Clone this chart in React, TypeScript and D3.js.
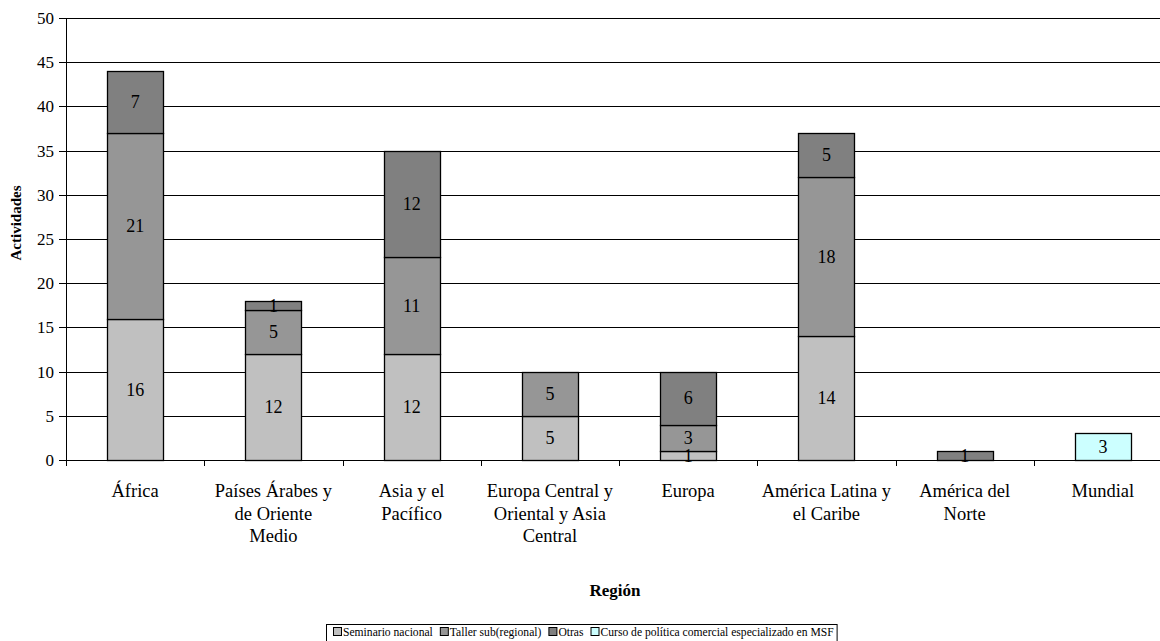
import React from "react";
import * as d3 from "d3";

const categories = [
  ["África"],
  ["Países Árabes y", "de Oriente", "Medio"],
  ["Asia y el", "Pacífico"],
  ["Europa Central y", "Oriental y Asia", "Central"],
  ["Europa"],
  ["América Latina y", "el Caribe"],
  ["América del", "Norte"],
  ["Mundial"],
];
const seriesNames = [
  "Seminario nacional",
  "Taller sub(regional)",
  "Otras",
  "Curso de política comercial especializado en MSF",
];
const seminario = [16, 12, 12, 5, 1, 14, 0, 0];
const taller = [21, 5, 11, 5, 3, 18, 0, 0];
const otras = [7, 1, 12, 0, 6, 5, 1, 0];
const curso = [0, 0, 0, 0, 0, 0, 0, 3];
const colors = ["#C0C0C0", "#969696", "#808080", "#CCFFFF"];
const yTicks = [0, 5, 10, 15, 20, 25, 30, 35, 40, 45, 50];

const FONT = "Liberation Serif";

function measure(text: string, size: number): number {
  if (typeof document === "undefined") return text.length * size * 0.45;
  const c = document.createElement("canvas").getContext("2d");
  if (!c) return text.length * size * 0.45;
  c.font = `${size}px "${FONT}"`;
  return c.measureText(text).width;
}

export default function App() {
  const left = 66, right = 1172, top = 18, bottom = 460;
  const idx = d3.range(categories.length);
  const x = d3.scaleBand<number>().domain(idx).range([left, right]).padding(0);
  const y = d3.scaleLinear().domain([0, 50]).range([bottom, top]);
  const bw = Math.round(x.bandwidth() * 0.405);
  const series = [seminario, taller, otras, curso];
  const rows = idx.map(i => ({ s0: seminario[i], s1: taller[i], s2: otras[i], s3: curso[i] }));
  const stack = d3.stack<any>().keys(["s0", "s1", "s2", "s3"])(rows);
  const cx = (i: number) => (x(i) as number) + x.bandwidth() / 2;
  const py = (v: number) => Math.round(y(v)) + 0.5;

  const lfs = 11.6;
  let lx = 333;
  const legendItems = seriesNames.map((name, k) => {
    const item = { name, k, x: lx };
    lx += 10 + measure(name, lfs) + 7;
    return item;
  });
  const legendRight = lx - 4;

  return (
    <svg width={1160} height={641}
      style={{ position: "absolute", left: 0, top: 0, background: "#fff" }}>
      {yTicks.filter(t => t > 0).map(t => (
        <line key={"g" + t} x1={left} x2={right} y1={py(t)} y2={py(t)} stroke="#000" strokeWidth={1} />
      ))}
      {stack.map((layer, k) => layer.map((d: any, i: number) => {
        const v = series[k][i];
        if (!v) return null;
        const y0 = Math.round(y(d[0])), y1 = Math.round(y(d[1]));
        return (
          <rect key={`b${k}-${i}`} x={Math.round(cx(i) - bw / 2) + 0.5} y={y1 + 0.5} width={bw} height={y0 - y1}
            fill={colors[k]} stroke="#000" strokeWidth={1.3} />
        );
      }))}
      {stack.map((layer, k) => layer.map((d: any, i: number) => {
        const v = series[k][i];
        if (!v) return null;
        return (
          <text key={`l${k}-${i}`} x={cx(i)} y={(y(d[0]) + y(d[1])) / 2} dy="0.35em" textAnchor="middle"
            fontFamily={FONT} fontSize={18} fill="#000">{v}</text>
        );
      }))}
      <line x1={left + 0.5} x2={left + 0.5} y1={top} y2={bottom + 0.5} stroke="#000" />
      <line x1={left} x2={right} y1={bottom + 0.5} y2={bottom + 0.5} stroke="#000" />
      {yTicks.map(t => (
        <g key={"t" + t}>
          <line x1={left - 7} x2={left} y1={py(t)} y2={py(t)} stroke="#000" />
          <text x={54} y={py(t)} dy="0.35em" textAnchor="end" fontFamily={FONT} fontSize={17}>{t}</text>
        </g>
      ))}
      {d3.range(categories.length + 1).map(i => {
        const xx = Math.round(i < categories.length ? (x(i) as number) : right) + 0.5;
        return <line key={"xt" + i} x1={xx} x2={xx} y1={bottom} y2={bottom + 6} stroke="#000" />;
      })}
      {categories.map((lines, i) => lines.map((l, j) => (
        <text key={`c${i}-${j}`} x={cx(i)} y={497 + j * 22.7} textAnchor="middle" fontFamily={FONT} fontSize={18.5}>{l}</text>
      )))}
      <text x={(left + right) / 2 - 4} y={596} textAnchor="middle" fontFamily={FONT} fontSize={17} fontWeight="bold">Región</text>
      <text transform="translate(21,223) rotate(-90)" textAnchor="middle" fontFamily={FONT} fontSize={15} fontWeight="bold">Actividades</text>
      <rect x={326.5} y={624.5} width={legendRight - 326} height={20} fill="#fff" stroke="#000" strokeWidth={1} />
      {legendItems.map(it => (
        <g key={"lg" + it.k}>
          <rect x={it.x + 0.5} y={627.5} width={8} height={8} fill={colors[it.k]} stroke="#000" strokeWidth={1} />
          <text x={it.x + 10} y={636} fontFamily={FONT} fontSize={lfs}>{it.name}</text>
        </g>
      ))}
    </svg>
  );
}
